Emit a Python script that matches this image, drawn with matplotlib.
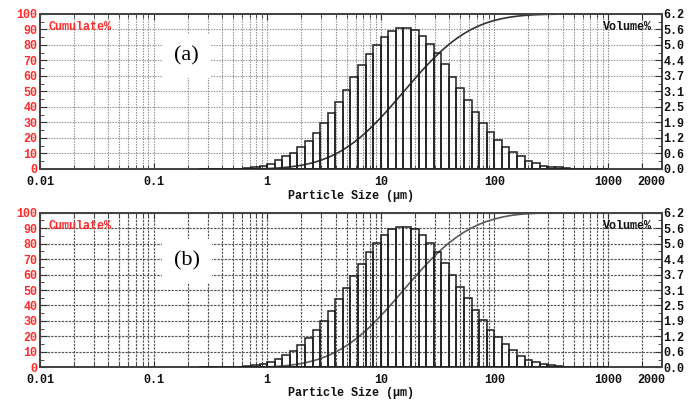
import numpy as np
import matplotlib
matplotlib.use('Agg')
import matplotlib.pyplot as plt
from matplotlib.ticker import FixedLocator, NullFormatter, MultipleLocator
import matplotlib.transforms as mtransforms

# ---- data -------------------------------------------------------------
# size-class edges (um), 15 classes per decade
size_edges = [0.2512, 0.2929, 0.3415, 0.3981, 0.4642, 0.5412, 0.6310, 0.7356, 0.8577,
              1.000, 1.166, 1.359, 1.585, 1.848, 2.154, 2.512, 2.929, 3.415, 3.981,
              4.642, 5.412, 6.310, 7.356, 8.577, 10.00, 11.66, 13.59, 15.85, 18.48,
              21.54, 25.12, 29.29, 34.15, 39.81, 46.42, 54.12, 63.10, 73.56, 85.77,
              100.0, 116.6, 135.9, 158.5, 184.8, 215.4, 251.2, 292.9, 341.5, 398.1,
              464.2, 541.2, 631.0, 735.6, 857.7, 1000.0]

volume_a = [0, 0, 0, 0.003, 0.006, 0.012, 0.031, 0.062, 0.124, 0.217,
            0.36, 0.50, 0.64, 0.86, 1.13, 1.45, 1.83, 2.23, 2.69, 3.16,
            3.66, 4.14, 4.60, 4.96, 5.29, 5.52, 5.62, 5.62, 5.56, 5.32,
            5.00, 4.63, 4.19, 3.69, 3.22, 2.76, 2.27, 1.85, 1.49, 1.16,
            0.89, 0.66, 0.50, 0.33, 0.23, 0.13, 0.09, 0.06, 0.025, 0.012,
            0.006, 0.006, 0.003, 0.003]
cumulate_a = [0, 0, 0, 0, 0.003, 0.01, 0.02, 0.05, 0.11, 0.24, 0.46, 0.82, 1.33, 1.98,
              2.85, 3.99, 5.46, 7.31, 9.57, 12.29, 15.49, 19.19, 23.38, 28.04, 33.06,
              38.41, 43.99, 49.68, 55.37, 61.0, 66.38, 71.44, 76.12, 80.36, 84.1,
              87.35, 90.15, 92.44, 94.32, 95.83, 97.0, 97.9, 98.57, 99.08, 99.41,
              99.64, 99.78, 99.87, 99.93, 99.96, 99.98, 99.99, 100, 100, 100]

volume_b = [0, 0.002, 0.003, 0.006, 0.009, 0.019, 0.037, 0.074, 0.13, 0.22,
            0.35, 0.50, 0.67, 0.88, 1.16, 1.49, 1.87, 2.26, 2.73, 3.19,
            3.66, 4.15, 4.62, 4.97, 5.31, 5.54, 5.64, 5.64, 5.54, 5.31,
            5.00, 4.64, 4.20, 3.70, 3.23, 2.77, 2.29, 1.90, 1.49, 1.22,
            0.94, 0.69, 0.46, 0.29, 0.20, 0.13, 0.09, 0.05, 0.025, 0.012,
            0.005, 0.004, 0.003, 0.003]
cumulate_b = [0, 0, 0.002, 0.005, 0.011, 0.02, 0.04, 0.08, 0.15, 0.28, 0.50, 0.86, 1.36,
              2.03, 2.92, 4.09, 5.59, 7.47, 9.75, 12.5, 15.71, 19.4, 23.57, 28.23,
              33.23, 38.58, 44.16, 49.84, 55.52, 61.09, 66.44, 71.48, 76.15, 80.38,
              84.1, 87.36, 90.15, 92.45, 94.37, 95.87, 97.1, 98.04, 98.74, 99.2,
              99.49, 99.69, 99.82, 99.91, 99.96, 99.98, 99.99, 100, 100, 100, 100]

xtick_values = [0.01, 0.1, 1, 10, 100, 1000, 2000]
xtick_labels = ['0.01', '0.1', '1', '10', '100', '1000', '2000']
left_ticks = [0, 10, 20, 30, 40, 50, 60, 70, 80, 90, 100]
left_labels = ['0', '10', '20', '30', '40', '50', '60', '70', '80', '90', '100']
right_ticks = [0, 0.62, 1.24, 1.86, 2.48, 3.10, 3.72, 4.34, 4.96, 5.58, 6.2]
right_labels = ['0.0', '0.6', '1.2', '1.9', '2.5', '3.1', '3.7', '4.4', '5.0', '5.6', '6.2']
panel_labels = ['(a)', '(b)']
x_title = 'Particle Size (\u03bcm)'

# ---- figure -------------------------------------------------------------
mono = ['Liberation Mono', 'DejaVu Sans Mono']
fs = 8.5
fig = plt.figure(figsize=(6.97, 4.01), dpi=100)
positions = [[0.0574, 0.5786, 0.8924, 0.3865], [0.0574, 0.0840, 0.8924, 0.3856]]
panels = [(volume_a, cumulate_a), (volume_b, cumulate_b)]
label_y = [0.729, 0.688]
title_y = [0.511, 0.019]
grid_styles = [dict(color='#8a8a8a', linestyle=(0, (1.2, 1.2)), linewidth=0.8),
               dict(color='#555555', linestyle=(0, (2.0, 1.0)), linewidth=0.85)]
curve_colors = ['#333333', '#5a5a5a']

edges = np.array(size_edges)
minor_x = [m * 10.0 ** e for e in range(-2, 4) for m in range(2, 10)]

for i, (pos, (vol, cum)) in enumerate(zip(positions, panels)):
    ax = fig.add_axes(pos)
    ax.set_xscale('log')
    ax.set_xlim(0.01, 3000)
    ax.set_ylim(0, 100)

    ax.xaxis.set_major_locator(FixedLocator(xtick_values))
    ax.xaxis.set_minor_locator(FixedLocator(minor_x))
    ax.xaxis.set_minor_formatter(NullFormatter())
    ax.set_xticklabels(xtick_labels, fontfamily=mono, fontweight='bold', fontsize=fs)
    ax.set_yticks(left_ticks)
    ax.set_yticklabels(left_labels, fontfamily=mono, fontweight='bold', fontsize=fs,
                       color='#ff2a2a')
    ax.yaxis.set_minor_locator(MultipleLocator(5))

    ax.grid(True, which='both', axis='x', **grid_styles[i])
    ax.grid(True, which='major', axis='y', **grid_styles[i])
    ax.set_axisbelow(True)

    ax.tick_params(axis='x', which='both', direction='in', top=True, bottom=True,
                   pad=5, colors='#333333', labelcolor='#111111')
    ax.tick_params(axis='x', which='major', length=4)
    ax.tick_params(axis='x', which='minor', length=3)
    ax.tick_params(axis='y', which='major', direction='in', length=5, pad=2,
                   colors='#333333', labelcolor='#ff2a2a')
    ax.tick_params(axis='y', which='minor', direction='in', length=3, colors='#333333')

    # shift the "2000" label slightly right, as in the instrument print-out
    lab = ax.xaxis.get_major_ticks()[-1].label1
    lab.set_transform(lab.get_transform() +
                      mtransforms.ScaledTranslation(9 / 100, 0, fig.dpi_scale_trans))

    ax.plot(edges, cum, color=curve_colors[i], linewidth=1.2, zorder=4)

    ax2 = ax.twinx()
    ax2.set_ylim(0, 6.2)
    ax2.set_yticks(right_ticks)
    ax2.set_yticklabels(right_labels, fontfamily=mono, fontweight='bold', fontsize=fs,
                        color='#111111')
    ax2.yaxis.set_minor_locator(MultipleLocator(0.31))
    ax2.tick_params(axis='y', which='major', direction='in', length=5, pad=1,
                    colors='#333333', labelcolor='#111111')
    ax2.tick_params(axis='y', which='minor', direction='in', length=3, colors='#333333')

    ax2.bar(edges[:-1], vol, width=np.diff(edges), align='edge', facecolor='none',
            edgecolor='#1e1e1e', linewidth=1.1, zorder=3)

    for a in (ax, ax2):
        for s in a.spines.values():
            s.set_color('#444444')
            s.set_linewidth(1.4)

    fig.text(pos[0] + pos[2] / 2, title_y[i], x_title, ha='center', va='center',
             fontfamily=mono, fontweight='bold', fontsize=fs, color='#111111')

    ax.text(0.013, 0.955, 'Cumulate%', transform=ax.transAxes, ha='left', va='top',
            fontfamily=mono, fontweight='bold', fontsize=fs, color='#ff2a2a', zorder=6)
    ax.text(0.984, 0.955, 'Volume%', transform=ax.transAxes, ha='right', va='top',
            fontfamily=mono, fontweight='bold', fontsize=fs, color='#111111', zorder=6)
    ax2.text(0.236, label_y[i], panel_labels[i], transform=ax.transAxes, ha='center',
             va='center', fontfamily=['Liberation Serif', 'DejaVu Serif'], fontsize=16,
             color='black', zorder=10,
             bbox=dict(boxstyle='square,pad=0.55', facecolor='white', edgecolor='none'))

fig.savefig('out.png', dpi=100)
